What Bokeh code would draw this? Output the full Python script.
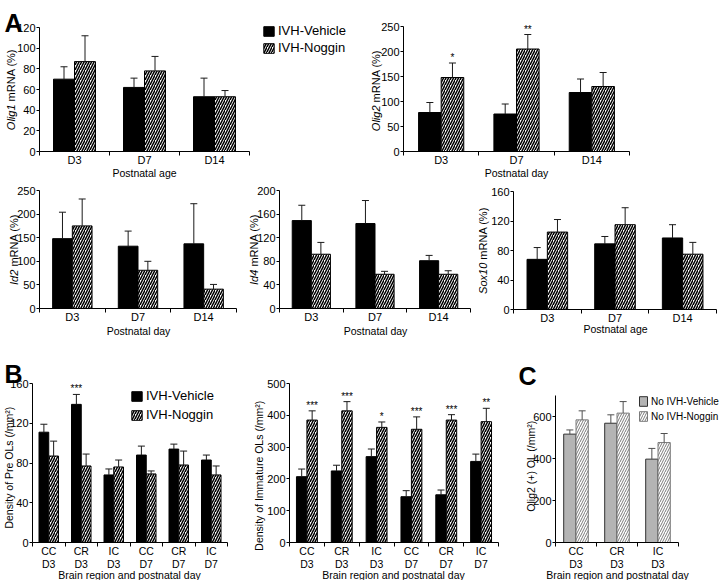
import numpy as np
from bokeh.plotting import figure
from bokeh.layouts import row, column
from bokeh.models import Range1d, FixedTicker, Label, Legend, LegendItem
from bokeh.embed import file_html
from bokeh.resources import INLINE

FONT = "Liberation Sans"

# ---------------- data ----------------
days = ["D3", "D7", "D14"]
olig1_veh = [70, 62, 53]
olig1_veh_err = [12, 9, 18]
olig1_nog = [87, 78, 53]
olig1_nog_err = [25, 14, 6]

olig2_veh = [78, 75, 118]
olig2_veh_err = [20, 20, 27]
olig2_nog = [148, 205, 130]
olig2_nog_err = [29, 29, 28]
olig2_nog_sig = ["*", "**", ""]

id2_veh = [148, 132, 137]
id2_veh_err = [56, 32, 85]
id2_nog = [175, 81, 41]
id2_nog_err = [57, 19, 10]

id4_veh = [149, 144, 81]
id4_veh_err = [26, 39, 9]
id4_nog = [92, 58, 58]
id4_nog_err = [20, 5, 6]

sox10_veh = [68, 89, 97]
sox10_veh_err = [16, 10, 18]
sox10_nog = [105, 115, 75]
sox10_nog_err = [17, 23, 16]

regions = ["CC\nD3", "CR\nD3", "IC\nD3", "CC\nD7", "CR\nD7", "IC\nD7"]
pre_veh = [111, 139, 68, 88, 94, 83]
pre_veh_err = [8, 10, 6, 9, 5, 5]
pre_nog = [87, 77, 76, 69, 78, 68]
pre_nog_err = [15, 12, 7, 3, 14, 9]
pre_veh_sig = ["", "***", "", "", "", ""]

imm_veh = [207, 225, 270, 144, 150, 255]
imm_veh_err = [24, 18, 24, 19, 15, 23]
imm_nog = [385, 414, 362, 356, 385, 380]
imm_nog_err = [29, 29, 17, 39, 17, 42]
imm_nog_sig = ["***", "***", "*", "***", "***", "**"]

c_regions = ["CC\nD3", "CR\nD3", "IC\nD3"]
c_veh = [516, 568, 397]
c_veh_err = [20, 40, 51]
c_nog = [584, 616, 476]
c_nog_err = [43, 55, 43]

legend_a = ["IVH-Vehicle", "IVH-Noggin"]
legend_c = ["No IVH-Vehicle", "No IVH-Noggin"]

W = {'O': 778, 'l': 222, 'i': 222, 'g': 556, '1': 556, '2': 556, '4': 556, '0': 556,
     'I': 278, 'd': 556, 'S': 667, 'o': 556, 'x': 500, ' ': 278, 'm': 833, 'R': 722,
     'N': 722, 'A': 667, '(': 333, '%': 889, ')': 333}


def text_w(s, size):
    return sum(W.get(c, 556) for c in s) * size / 1000.0


class Panel:
    """One bar panel; box = figure rectangle, frame = data rectangle (page px)."""

    def __init__(self, box, frame, ymax, yticks, cats, veh, veh_err, nog, nog_err,
                 veh_sig=None, nog_sig=None, cat_font=11, tick_font=11, grey=False,
                 line_h=1.2):
        ox0, ox1, oy0, oy1 = box
        L, R, T, B = frame
        self.box = box
        n = len(cats)
        Wd = ox1 - ox0
        H = oy1 - oy0
        self.W, self.H = Wd, H
        l, r, t, b = L - ox0, R - ox0, T - oy0, B - oy0
        xppu = (r - l) / float(n)
        yppu = (b - t) / float(ymax)
        p = figure(width=Wd, height=H,
                   x_range=Range1d(-l / xppu, (Wd - l) / xppu),
                   y_range=Range1d(-(H - b) / yppu, b / yppu),
                   output_backend="svg", toolbar_location=None, min_border=0)
        p.outline_line_color = None
        p.xgrid.visible = False
        p.ygrid.visible = False
        p.background_fill_color = "white"
        p.border_fill_color = "white"
        self.p = p

        centers = np.arange(n) + 0.5
        xv = centers - 0.15
        xn = centers + 0.15
        veh = np.array(veh, float)
        nog = np.array(nog, float)
        veh_top = veh + np.array(veh_err, float)
        nog_top = nog + np.array(nog_err, float)

        if grey:
            self.rv = p.vbar(x=xv, top=veh, bottom=0, width=0.3, fill_color="#b4b4b4",
                             line_color="#303030", line_width=1)
            self.rn = p.vbar(x=xn, top=nog, bottom=0, width=0.3, fill_color="white",
                             line_color="#7a7a7a", line_width=1, hatch_pattern="/",
                             hatch_color="#7a7a7a", hatch_scale=5, hatch_weight=1)
            ecol = "#505050"
        else:
            self.rv = p.vbar(x=xv, top=veh, bottom=0, width=0.3, fill_color="black",
                             line_color="black", line_width=1)
            self.rn = p.vbar(x=xn, top=nog, bottom=0, width=0.3, fill_color="white",
                             line_color="black", line_width=1, hatch_pattern="/",
                             hatch_color="black", hatch_scale=5, hatch_weight=1.5)
            ecol = "#1a1a1a"
        for xs, v, tp in ((xv, veh, veh_top), (xn, nog, nog_top)):
            p.segment(x0=xs, y0=v, x1=xs, y1=tp, line_color=ecol, line_width=1)
            p.scatter(x=xs, y=tp, marker="dash", size=7, line_color=ecol, line_width=1)
        for xs, tp, sig in ((xv, veh_top, veh_sig), (xn, nog_top, nog_sig)):
            if sig:
                p.text(x=xs, y=tp, text=sig, text_align="center", text_baseline="bottom",
                       text_font_size="10px", text_color="black")

        ya = p.yaxis[0]
        ya.fixed_location = 0
        ya.bounds = (0, ymax)
        ya.ticker = FixedTicker(ticks=yticks)
        ya.major_tick_out = 3
        ya.major_tick_in = 0
        ya.minor_tick_out = 0
        ya.minor_tick_in = 0
        ya.major_label_standoff = 1
        ya.major_label_text_font = FONT
        ya.major_label_text_font_size = f"{tick_font}px"
        ya.major_label_text_color = "black"
        ya.axis_line_color = "black"
        ya.major_tick_line_color = "black"

        xa = p.xaxis[0]
        xa.fixed_location = 0
        xa.bounds = (0, n)
        xa.ticker = FixedTicker(ticks=list(centers), minor_ticks=list(range(n + 1)))
        xa.major_label_overrides = {float(c): lab for c, lab in zip(centers, cats)}
        xa.major_tick_out = 0
        xa.major_tick_in = 0
        xa.minor_tick_out = 4
        xa.minor_tick_in = 0
        xa.minor_tick_line_color = "black"
        xa.major_label_standoff = -2
        xa.major_label_text_font = FONT
        xa.major_label_text_font_size = f"{cat_font}px"
        xa.major_label_text_line_height = line_h
        xa.major_label_text_color = "black"
        xa.axis_line_color = "black"

    def sx(self, x):
        return x - self.box[0]

    def sy(self, y):
        return self.H - (y - self.box[2])

    def label(self, x, y, text, size, **kw):
        self.p.add_layout(Label(x=x, y=y, x_units="screen", y_units="screen", text=text,
                                text_font=FONT, text_font_size=f"{size}px",
                                text_color="black", **kw))

    def ylab(self, xc, yc, parts, size):
        sp = text_w(" ", size)
        total = sum(text_w(t, size) for t, _ in parts) + sp * (len(parts) - 1)
        y = self.sy(yc) - total / 2.0
        for t, it in parts:
            self.label(self.sx(xc), y, t, size, angle=90, angle_units="deg",
                       text_align="left", text_baseline="middle",
                       text_font_style="italic" if it else "normal")
            y += text_w(t, size) + sp

    def xtitle(self, xc, yc, text, size):
        self.label(self.sx(xc), self.sy(yc), text, size, text_align="center",
                   text_baseline="middle")

    def letter(self, xl, yb, text):
        self.label(self.sx(xl), self.sy(yb), text, 25, text_align="left",
                   text_baseline="alphabetic", text_font_style="bold")

    def legend(self, labels, xl, yt, size, gw, gh, spacing, item_h):
        items = [LegendItem(label=lab, renderers=[r])
                 for lab, r in zip(labels, [self.rv, self.rn])]
        leg_h = item_h * len(items) + spacing * (len(items) - 1)
        loc = (self.sx(xl), self.sy(yt) - leg_h)
        lg = Legend(items=items, location=loc, orientation="vertical", padding=0, margin=0,
                    spacing=spacing, glyph_width=gw, glyph_height=gh, label_height=gh,
                    label_standoff=3, label_text_font=FONT, label_text_font_size=f"{size}px",
                    label_text_color="black", border_line_color=None,
                    background_fill_alpha=0)
        self.p.add_layout(lg)


# ---------------- row 1 ----------------
a1 = Panel((0, 360, 0, 180), (39, 249, 27, 151), 120, [0, 20, 40, 60, 80, 100, 120], days,
           olig1_veh, olig1_veh_err, olig1_nog, olig1_nog_err)
a1.ylab(10, 89, [("Olig1", True), ("mRNA (%)", False)], 11)
a1.xtitle(144, 172, "Postnatal age", 10.5)
a1.letter(4, 22, "A")
a1.legend(legend_a, 262, 23, 13, 13, 12, 2, 15)

a2 = Panel((360, 720, 0, 180), (403, 629, 26, 151), 250, [0, 50, 100, 150, 200, 250], days,
           olig2_veh, olig2_veh_err, olig2_nog, olig2_nog_err, nog_sig=olig2_nog_sig)
a2.ylab(375, 90, [("Olig2", True), ("mRNA (%)", False)], 11)
a2.xtitle(516, 172, "Postnatal day", 10.5)

# ---------------- row 2 ----------------
a3 = Panel((0, 244, 180, 352), (39, 236, 190, 308), 250, [0, 50, 100, 150, 200, 250], days,
           id2_veh, id2_veh_err, id2_nog, id2_nog_err)
a3.ylab(13, 249, [("Id2", True), ("mRNA (%)", False)], 11)
a3.xtitle(138, 330, "Postnatal day", 10.5)

a4 = Panel((244, 478, 180, 352), (279, 470, 190, 308), 200, [0, 40, 80, 120, 160, 200], days,
           id4_veh, id4_veh_err, id4_nog, id4_nog_err)
a4.ylab(253, 249, [("Id4", True), ("mRNA (%)", False)], 11)
a4.xtitle(375, 330, "Postnatal day", 10.5)

a5 = Panel((478, 720, 180, 352), (513, 716, 191, 309), 160, [0, 40, 80, 120, 160], days,
           sox10_veh, sox10_veh_err, sox10_nog, sox10_nog_err)
a5.ylab(482, 250, [("Sox10", True), ("mRNA (%)", False)], 11)
a5.xtitle(615, 328, "Postnatal age", 10.5)

# ---------------- row 3 ----------------
b1 = Panel((0, 250, 352, 580), (32, 227, 383, 542), 160, [0, 40, 80, 120, 160], regions,
           pre_veh, pre_veh_err, pre_nog, pre_nog_err, veh_sig=pre_veh_sig,
           cat_font=10.5, tick_font=11, line_h=1.1)
b1.ylab(8, 461, [("Density of Pre OLs (/mm\u00b2)", False)], 10.5)
b1.xtitle(129, 574, "Brain region and postnatal day", 10.5)
b1.letter(4, 373, "B")
b1.legend(legend_a, 130, 388, 13, 13, 12, 4, 15)

b2 = Panel((250, 515, 352, 580), (289, 498, 383, 542), 500, [0, 100, 200, 300, 400, 500],
           regions, imm_veh, imm_veh_err, imm_nog, imm_nog_err, nog_sig=imm_nog_sig,
           cat_font=10.5, tick_font=11, line_h=1.1)
b2.ylab(258, 467, [("Density of Immature OLs (/mm\u00b2)", False)], 10.5)
b2.xtitle(393, 574, "Brain region and postnatal day", 10.5)

c1 = Panel((515, 720, 352, 580), (555, 678, 395, 542), 700, [0, 200, 400, 600], c_regions,
           c_veh, c_veh_err, c_nog, c_nog_err, cat_font=10.5, tick_font=11, grey=True,
           line_h=1.1)
c1.ylab(530, 463, [("Olig2 (+) OL (/mm\u00b2)", False)], 10.5)
c1.xtitle(617, 574, "Brain region and postnatal day", 10.5)
c1.letter(518, 375, "C")
c1.legend(legend_c, 638, 395, 10, 10, 12, 3, 12)

layout = column(row(a1.p, a2.p), row(a3.p, a4.p, a5.p), row(b1.p, b2.p, c1.p))

open("out.html", "w").write(file_html(layout, INLINE))
